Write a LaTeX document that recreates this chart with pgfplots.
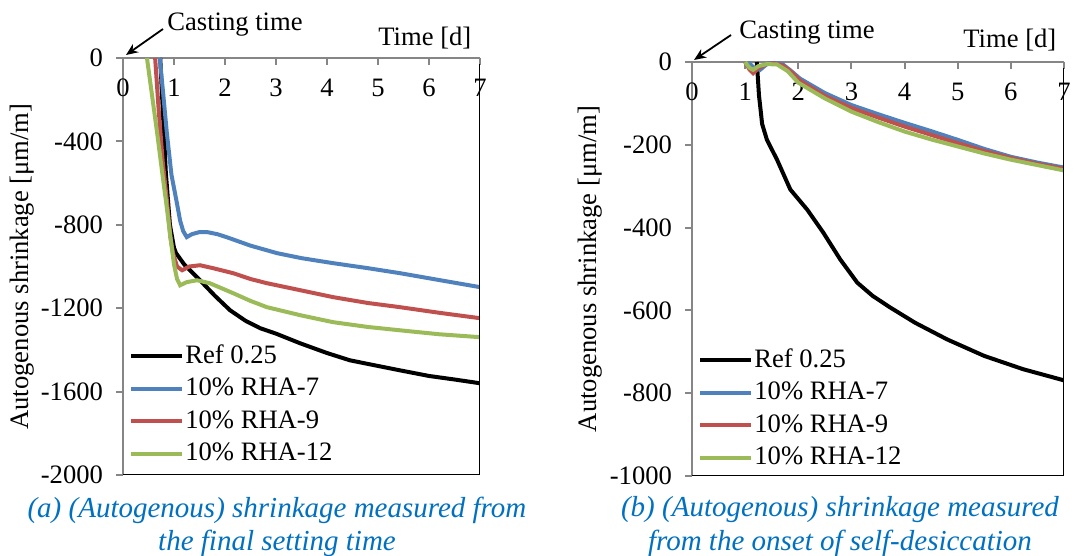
\documentclass[border=0pt]{standalone}
\usepackage{pgfplots}
\pgfplotsset{compat=1.18}
\usepackage{fontspec}
\setmainfont{Liberation Serif}
\usetikzlibrary{arrows.meta}

\definecolor{sblue}{HTML}{4F81BD}
\definecolor{sred}{HTML}{C0504D}
\definecolor{sgreen}{HTML}{9BBB59}
\definecolor{capblue}{HTML}{0070C0}
\definecolor{axgray}{HTML}{868686}

\newcommand{\chartfont}{\fontsize{13.3}{16}\selectfont}

\pgfplotsset{shrink/.style={
    scale only axis,
    xmin=0, xmax=7, xtick={0,...,7},
    xticklabels={0,1,2,3,4,5,6,7},
    axis x line*=top, axis y line*=left,
    axis line style={-, axgray, line width=1pt},
    tick style={axgray, line width=1pt},
    xtick align=inside, ytick align=outside,
    major tick length=3.5pt,
    ticklabel style={font=\chartfont},
    xticklabel style={anchor=north, yshift=-7pt},
    yticklabel style={xshift=-3pt},
    label style={font=\chartfont},
    ylabel={Autogenous shrinkage [μm/m]},
    legend cell align=left,
    legend style={draw=none, fill=none, font=\chartfont,
        at={(rel axis cs:0,0)}, anchor=south west,
        nodes={inner sep=0pt, text height=9pt, text depth=2pt},
        row sep=5.25pt,
        /tikz/every odd column/.append style={column sep=0.5pt}},
    legend image code/.code={\draw[#1] (0pt,0pt) -- (25.5pt,0pt);},
    every axis plot/.append style={line width=2pt, no markers},
}}

\begin{document}
\begin{tikzpicture}

% (a) measured from the final setting time
\begin{axis}[shrink,
    at={(61.5pt,40.5pt)}, anchor=south west,
    width=178.5pt, height=208.5pt,
    ymin=-2000, ymax=0, ytick={-2000,-1600,...,0},
    yticklabels={-2000,-1600,-1200,-800,-400,0},
    ylabel style={at={(axis description cs:-0.283,0.5)}, anchor=center},
    legend style={xshift=0pt, yshift=3pt},
    ]
\addplot[black] coordinates {(0.73,0) (0.78,-250) (0.84,-550) (0.92,-800) (1.0,-910) (1.04,-936) (1.2,-990) (1.51,-1066) (1.8,-1140) (2.1,-1210) (2.4,-1260) (2.69,-1296) (3.0,-1322) (3.47,-1368) (4.0,-1415) (4.45,-1450) (5.0,-1477) (5.43,-1498) (6.0,-1525) (6.5,-1542) (7,-1560)};
\addplot[sblue] coordinates {(0.72,0) (0.78,-150) (0.86,-360) (0.95,-560) (1.06,-700) (1.12,-780) (1.18,-830) (1.25,-859) (1.35,-845) (1.5,-835) (1.65,-835) (1.85,-845) (2.04,-860) (2.5,-900) (3.02,-936) (3.5,-960) (4.12,-984) (4.8,-1008) (5.43,-1032) (6.2,-1065) (7,-1099)};
\addplot[sred] coordinates {(0.63,0) (0.7,-250) (0.78,-500) (0.86,-682) (0.93,-860) (0.98,-936) (1.06,-1000) (1.16,-1018) (1.3,-1000) (1.51,-994) (1.8,-1010) (2.16,-1032) (2.5,-1060) (2.82,-1080) (3.5,-1115) (4.12,-1147) (4.8,-1175) (5.43,-1195) (6.2,-1222) (7,-1248)};
\addplot[sgreen] coordinates {(0.47,0) (0.57,-180) (0.67,-360) (0.78,-571) (0.85,-700) (0.92,-840) (1.0,-990) (1.06,-1060) (1.12,-1090) (1.25,-1075) (1.45,-1066) (1.7,-1080) (2.16,-1128) (2.5,-1165) (2.82,-1195) (3.5,-1235) (4.12,-1267) (4.8,-1290) (5.43,-1306) (6.2,-1325) (7,-1339)};
\legend{Ref 0.25, 10\% RHA-7, 10\% RHA-9, 10\% RHA-12}
\draw[black, line width=1pt] (rel axis cs:0,0) -- (rel axis cs:1,0) -- (rel axis cs:1,0.985);
\end{axis}

% (b) measured from the onset of self-desiccation
\begin{axis}[shrink,
    at={(346pt,40pt)}, anchor=south west,
    width=186pt, height=207pt,
    ymin=-1000, ymax=0, ytick={-1000,-800,...,0},
    yticklabels={-1000,-800,-600,-400,-200,0},
    ylabel style={at={(axis description cs:-0.274,0.5)}, anchor=center},
    legend style={xshift=0pt, yshift=1.5pt},
    ]
\addplot[black] coordinates {(1.22,0) (1.26,-80) (1.32,-150) (1.41,-188) (1.6,-236) (1.85,-308) (2.17,-357) (2.47,-412) (2.79,-477) (3.11,-533) (3.4,-565) (3.73,-593) (4.2,-630) (4.8,-670) (5.5,-710) (6.23,-742) (7,-769)};
\addplot[sblue] coordinates {(1.05,0) (1.15,-12) (1.28,-19) (1.4,-6) (1.53,0) (1.7,-5) (1.85,-20) (2.03,-40) (2.5,-75) (3,-104) (3.5,-126) (4,-147) (4.5,-167) (5,-188) (5.5,-210) (6,-229) (6.5,-243) (7,-255)};
\addplot[sred] coordinates {(1.0,0) (1.08,-18) (1.15,-27) (1.25,-15) (1.4,-5) (1.55,-3) (1.7,-8) (1.85,-22) (2.03,-45) (2.5,-82) (3,-111) (3.5,-134) (4,-156) (4.5,-176) (5,-196) (5.5,-215) (6,-232) (6.5,-246) (7,-258)};
\addplot[sgreen] coordinates {(1.0,0) (1.08,-14) (1.15,-19) (1.25,-10) (1.41,-5) (1.6,-6) (1.8,-22) (2.0,-50) (2.5,-88) (3,-120) (3.5,-145) (4,-168) (4.5,-187) (5,-204) (5.5,-221) (6,-236) (6.5,-249) (7,-262)};
\legend{Ref 0.25, 10\% RHA-7, 10\% RHA-9, 10\% RHA-12}
\draw[black, line width=1pt] (rel axis cs:0,0) -- (rel axis cs:1,0) -- (rel axis cs:1,0.985);
\end{axis}

% annotations and captions, in pixel units of the reference
\begin{scope}[shift={(0pt,278pt)}, x=0.5pt, y=-0.5pt]
  \node[font=\chartfont, anchor=west, inner sep=0pt] at (167,25) {Casting time};
  \draw[line width=0.9pt, -{Stealth[length=6pt,width=5pt]}] (163,29) -- (126,55);
  \node[font=\chartfont, anchor=west, inner sep=0pt] at (378,38) {Time [d]};
  \node[font=\chartfont, anchor=west, inner sep=0pt] at (739,33) {Casting time};
  \draw[line width=0.9pt, -{Stealth[length=6pt,width=5pt]}] (731,35) -- (694,60);
  \node[font=\chartfont, anchor=west, inner sep=0pt] at (963,40) {Time [d]};
  \begin{scope}[capblue, font=\fontsize{14.5}{17}\selectfont\itshape]
    \node at (277,510) {(a) (Autogenous) shrinkage measured from};
    \node at (277,543) {the final setting time};
    \node at (840,510) {(b) (Autogenous) shrinkage measured};
    \node at (840,543) {from the onset of self-desiccation};
  \end{scope}
\end{scope}

\pgfresetboundingbox
\useasboundingbox (0,0) rectangle (537.5pt,278pt);
\end{tikzpicture}
\end{document}
